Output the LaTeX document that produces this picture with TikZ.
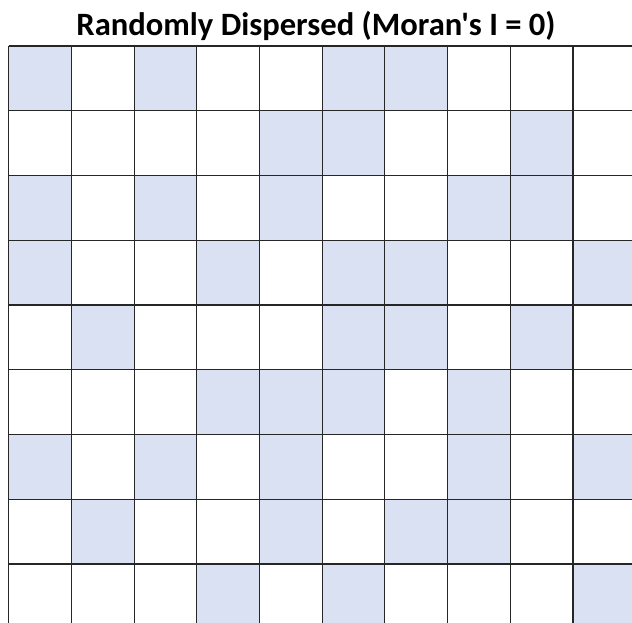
\documentclass[tikz,border=0pt]{standalone}
\usepackage{fontspec}
\newfontfamily\titlefont{Carlito}
\definecolor{cellblue}{RGB}{217,225,242}
\begin{document}
\begin{tikzpicture}[x=1pt,y=-1pt]
  \useasboundingbox (0,0) rectangle (632,623);
  \clip (0,0) rectangle (632,623);
  \fill[white] (0,0) rectangle (632,623);
  % shaded cells, row/columns
  \foreach \r/\cols in {1/{1,3,6,7},2/{5,6,9},3/{1,3,5,8,9},4/{1,4,6,7,10},5/{2,6,7,9},
                        6/{4,5,6,8},7/{1,3,5,8,10},8/{2,5,7,8},9/{4,6,10}}
    \foreach \c in \cols
      \fill[cellblue] ({8.7+62.7*(\c-1)},{46+64.75*(\r-1)}) rectangle +(62.7,64.75);
  % grid lines
  \foreach \i in {0,...,9}
    \draw[black!85,line width=1.1pt] ({8.7+62.7*\i},46) -- ({8.7+62.7*\i},623);
  \foreach \j in {0,...,8}
    \draw[black!85,line width=1.1pt] (8.7,{46+64.75*\j}) -- (632,{46+64.75*\j});
  \node[font=\titlefont\bfseries\fontsize{32.6}{38}\selectfont,anchor=base,inner sep=0pt] (title) at (316,36) {Randomly Dispersed (Moran's I = 0)};
\end{tikzpicture}
\end{document}
